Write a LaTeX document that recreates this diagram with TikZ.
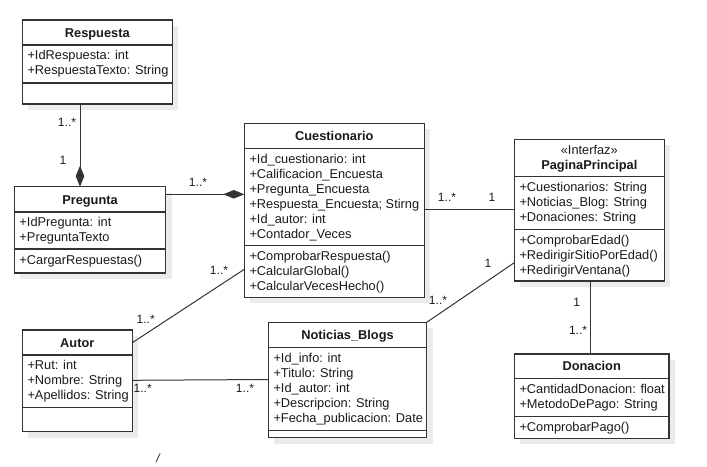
\documentclass[tikz,border=0pt]{standalone}
\usepackage{fontspec}
\setmainfont{Liberation Sans}
\usetikzlibrary{arrows.meta,calc}

\definecolor{edge}{HTML}{333333}
\definecolor{ink}{HTML}{1A1A1A}
\definecolor{shade}{HTML}{EBEBEB}

\tikzset{
  classframe/.style={draw=edge, line width=1.1pt, fill=white, rectangle, inner sep=0pt, outer sep=0pt},
  divider/.style={draw=edge, line width=1.1pt},
  shadowfill/.style={fill=shade},
  classtitle/.style={font=\fontsize{12.8}{15}\selectfont\bfseries, text=ink, anchor=base, inner sep=0pt},
  stereo/.style={font=\fontsize{12.8}{15}\selectfont, text=ink, anchor=base, inner sep=0pt},
  members/.style={font=\fontsize{12.8}{15}\selectfont, text=ink, anchor=north west, align=left, inner sep=0pt},
  link/.style={draw=edge, line width=1pt},
  mult/.style={font=\fontsize{12}{14}\selectfont, text=ink, inner sep=0pt},
  composite/.style={-{Diamond[length=21pt,width=8.5pt]}}
}

% #1 name, #2/#3 top-left, #4/#5 bottom-right, #6/#7 compartment dividers
\newcommand\umlclass[7]{%
  \fill[shadowfill] (#2+6,#3+6) rectangle (#4+6,#5+6);
  \node[classframe, anchor=north west,
        minimum width={(#4)-(#2)}, minimum height={(#5)-(#3)}] (#1) at (#2,#3) {};
  \draw[divider] (#2,#6) -- (#4,#6);
  \draw[divider] (#2,#7) -- (#4,#7);
}

\begin{document}
\begin{tikzpicture}[x=1pt,y=-1pt]
\useasboundingbox[fill=white] (0,0) rectangle (707,466);

% ---------------- classes ----------------
\umlclass{resp}{22.3}{20}{172.3}{104}{45}{83}
\node[classtitle] (resp-t) at (97.3,37.1) {Respuesta};
\node[members] (resp-a) at (27.3,49.1) {\strut+IdRespuesta: int\\\strut+RespuestaTexto: String};

\umlclass{preg}{14.3}{186.7}{165.7}{273}{212}{249}
\node[classtitle] (preg-t) at (90,204) {Pregunta};
\node[members] (preg-a) at (19.3,216.1) {\strut+IdPregunta: int\\\strut+PreguntaTexto};
\node[members] (preg-m) at (19.3,253.6) {\strut+CargarRespuestas()};

\umlclass{cues}{244.3}{123.3}{424.3}{297.3}{148.3}{245.7}
\node[classtitle] (cues-t) at (334.3,140.4) {Cuestionario};
\node[members] (cues-a) at (249.3,152.4) {\strut+Id\_cuestionario: int\\\strut+Calificacion\_Encuesta\\\strut+Pregunta\_Encuesta\\\strut+Respuesta\_Encuesta; Stirng\\\strut+Id\_autor: int\\\strut+Contador\_Veces};
\node[members] (cues-m) at (249.3,249.8) {\strut+ComprobarRespuesta()\\\strut+CalcularGlobal()\\\strut+CalcularVecesHecho()};

\umlclass{pag}{514.3}{139.3}{664.3}{281}{176.7}{229.3}
\node[stereo] (pag-s) at (589.3,154.6) {«Interfaz»};
\node[classtitle] (pag-t) at (589.3,169) {PaginaPrincipal};
\node[members] (pag-a) at (519.3,181.2) {\strut+Cuestionarios: String\\\strut+Noticias\_Blog: String\\\strut+Donaciones: String};
\node[members] (pag-m) at (519.3,233.4) {\strut+ComprobarEdad()\\\strut+RedirigirSitioPorEdad()\\\strut+RedirigirVentana()};

\umlclass{don}{514.3}{354}{669}{438.3}{378.3}{416.7}
\node[classtitle] (don-t) at (591.7,370.8) {Donacion};
\node[members] (don-a) at (519.3,382.4) {\strut+CantidadDonacion: float\\\strut+MetodoDePago: String};
\node[members] (don-m) at (519.3,420.8) {\strut+ComprobarPago()};

\umlclass{aut}{22.3}{330}{132.3}{431.7}{355}{407.3}
\node[classtitle] (aut-t) at (77.3,347.1) {Autor};
\node[members] (aut-a) at (27.3,359.1) {\strut+Rut: int\\\strut+Nombre: String\\\strut+Apellidos: String};

\umlclass{not}{268.3}{322.3}{426.7}{437.7}{347.3}{430.7}
\node[classtitle] (not-t) at (347.5,339.4) {Noticias\_Blogs};
\node[members] (not-a) at (273.3,351.4) {\strut+Id\_info: int\\\strut+Titulo: String\\\strut+Id\_autor: int\\\strut+Descripcion: String\\\strut+Fecha\_publicacion: Date};

% ---------------- connectors ----------------
\coordinate (rpX) at (80,0);
\draw[link, composite] (resp.south -| rpX) -- (preg.north -| rpX);

\coordinate (pqY) at (0,194.3);
\draw[link, composite] (preg.east |- pqY) -- (cues.west |- pqY);

\coordinate (cpY) at (0,209.6);
\draw[link] (cues.east |- cpY) -- (pag.west |- cpY);

\coordinate (acA) at (0,342.7);
\coordinate (acC) at (0,269.3);
\draw[link] (aut.east |- acA) -- (cues.west |- acC);

\coordinate (anA) at (0,380.3);
\coordinate (anN) at (0,379.5);
\draw[link] (aut.east |- anA) -- (not.west |- anN);

\coordinate (npY) at (0,262.7);
\draw[link] (not.north east) -- (pag.west |- npY);

\coordinate (pdX) at (590,0);
\draw[link] (pag.south -| pdX) -- (don.north -| pdX);

% ---------------- multiplicities ----------------
\node[mult] (m-rp1) at (67,122) {1..*};
\node[mult] (m-rp2) at (63,160) {1};
\node[mult] (m-pq) at (198,182) {1..*};
\node[mult] (m-cp1) at (447,197) {1..*};
\node[mult] (m-cp2) at (492,197) {1};
\node[mult] (m-np1) at (488,263) {1};
\node[mult] (m-np2) at (438,300.7) {1..*};
\node[mult] (m-pd1) at (576.7,302) {1};
\node[mult] (m-pd2) at (578,330) {1..*};
\node[mult] (m-ac1) at (219,270.7) {1..*};
\node[mult] (m-ac2) at (145.7,319.3) {1..*};
\node[mult] (m-an1) at (142.7,388.3) {1..*};
\node[mult] (m-an2) at (245,388.3) {1..*};
\node[mult] (slash) at (158,458.5) {\itshape /};
\end{tikzpicture}
\end{document}
